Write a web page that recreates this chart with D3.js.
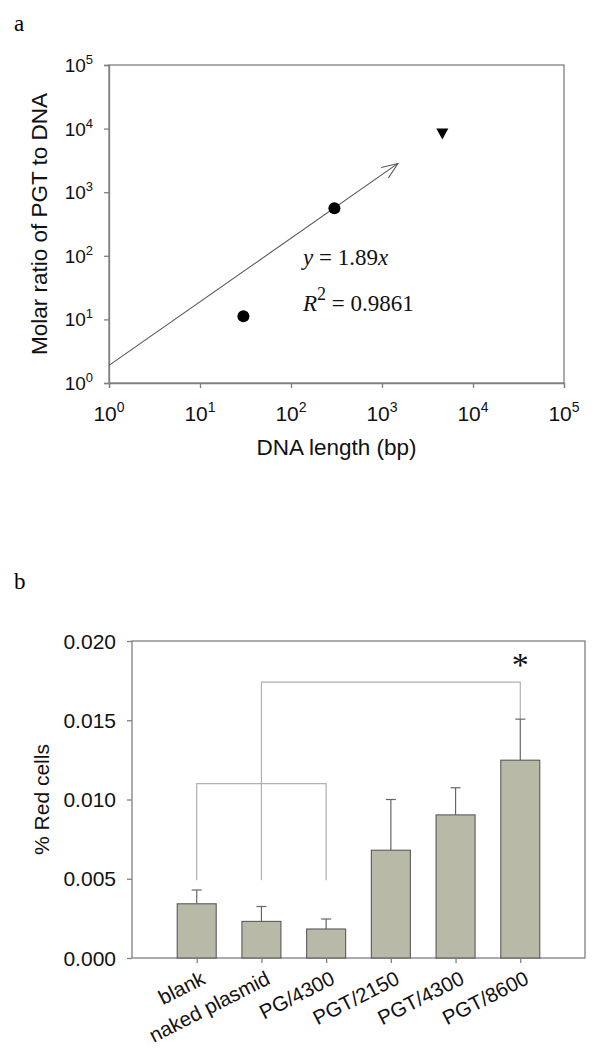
<!DOCTYPE html>
<html><head><meta charset="utf-8">
<script src="https://cdn.jsdelivr.net/npm/d3@7"></script>
<style>body{margin:0;background:#fff}svg{display:block}</style>
</head><body>
<svg id="c" width="603" height="1064"></svg>
<script>
// ---- Panel a data ----
const aCircleX = [30, 300];
const aCircleY = [11.2, 560];
const aTriX = [4600];
const aTriY = [8400];
const fitSlope = 1.89;
const fitRange = [1, 1500];
const aTicks = [1, 10, 100, 1000, 10000, 100000];
const aExponents = ["0", "1", "2", "3", "4", "5"];

// ---- Panel b data ----
const categories = ["blank", "naked plasmid", "PG/4300", "PGT/2150", "PGT/4300", "PGT/8600"];
const means = [0.00342, 0.00231, 0.00183, 0.00680, 0.00903, 0.01248];
const errs = [0.00087, 0.00094, 0.00063, 0.00320, 0.00171, 0.00259];
const bTicks = [0.000, 0.005, 0.010, 0.015, 0.020];
const bracketLow = {cats: ["blank", "naked plasmid", "PG/4300"], top: 0.0110, bottom: 0.0049};
const bracketHigh = {cats: ["naked plasmid", "PGT/8600"], top: 0.0174, bottoms: [0.0049, 0.0151]};

const svg = d3.select("#c");
const axisCol = "#808080";
const fontSans = "Liberation Sans, Arial, sans-serif";
const serif = "Liberation Serif, Times New Roman, serif";

// ================= Panel a =================
const ax0 = 109, ax1 = 564, ay0 = 65, ay1 = 383;
const xa = d3.scaleLog().domain([1, 1e5]).range([ax0, ax1]);
const ya = d3.scaleLog().domain([1, 1e5]).range([ay1, ay0]);

svg.append("text").attr("x", 14).attr("y", 31).attr("font-family", serif)
  .attr("font-size", 23).text("a");

const ga = svg.append("g");
ga.append("rect").attr("x", ax0).attr("y", ay0).attr("width", ax1 - ax0).attr("height", ay1 - ay0)
  .attr("fill", "none").attr("stroke", axisCol).attr("stroke-width", 1.3);

const xAxisA = ga.append("g").attr("transform", `translate(0,${ay1})`)
  .call(d3.axisBottom(xa).tickValues(aTicks).tickSize(5).tickFormat(""));
const yAxisA = ga.append("g").attr("transform", `translate(${ax0},0)`)
  .call(d3.axisLeft(ya).tickValues(aTicks).tickSize(5).tickFormat(""));
[xAxisA, yAxisA].forEach(g => { g.select(".domain").attr("stroke", axisCol).attr("stroke-width", 1.3); g.selectAll(".tick line").attr("stroke", axisCol).attr("stroke-width", 1.3); });

aTicks.forEach((v, i) => {
  const t = ga.append("text").attr("x", xa(v)).attr("y", 421).attr("text-anchor", "middle")
    .attr("font-family", fontSans).attr("font-size", 21).attr("fill", "#111");
  t.append("tspan").text("10");
  t.append("tspan").attr("font-size", 14).attr("dy", -9).text(aExponents[i]);
  const u = ga.append("text").attr("x", 93).attr("y", ya(v) + 7).attr("text-anchor", "end")
    .attr("font-family", fontSans).attr("font-size", 19).attr("fill", "#111");
  u.append("tspan").text("10");
  u.append("tspan").attr("font-size", 13).attr("dy", -8).text(aExponents[i]);
});

ga.append("text").attr("x", (ax0 + ax1) / 2).attr("y", 455).attr("text-anchor", "middle")
  .attr("font-family", fontSans).attr("font-size", 22.5).attr("fill", "#111").text("DNA length (bp)");
ga.append("text").attr("transform", `translate(47,${(ay0 + ay1) / 2}) rotate(-90)`).attr("text-anchor", "middle")
  .attr("font-family", fontSans).attr("font-size", 22.5).attr("fill", "#111").text("Molar ratio of PGT to DNA");

// fit line with open arrow
const defs = svg.append("defs");
defs.append("marker").attr("id", "arr").attr("viewBox", "0 0 20 20").attr("refX", 19).attr("refY", 10)
  .attr("markerWidth", 18).attr("markerHeight", 18).attr("markerUnits", "userSpaceOnUse").attr("orient", "auto")
  .append("path").attr("d", "M1,3 L19,10 L1,17").attr("fill", "none").attr("stroke", "#555").attr("stroke-width", 1.1);
const fitPts = fitRange.map(x => [xa(x), ya(fitSlope * x)]);
ga.append("path").attr("d", d3.line()(fitPts)).attr("stroke", "#555").attr("stroke-width", 1.1)
  .attr("fill", "none").attr("marker-end", "url(#arr)");

aCircleX.forEach((x, i) => ga.append("circle").attr("cx", xa(x)).attr("cy", ya(aCircleY[i])).attr("r", 6).attr("fill", "#000"));
aTriX.forEach((x, i) => {
  const cx = xa(x), cy = ya(aTriY[i]);
  ga.append("path").attr("d", `M${cx - 6},${cy - 5} L${cx + 6},${cy - 5} L${cx},${cy + 6} Z`).attr("fill", "#000");
});

const eq1 = ga.append("text").attr("x", 303).attr("y", ya(Math.pow(10, 1.86)))
  .attr("font-family", serif).attr("font-size", 23).attr("fill", "#111");
eq1.append("tspan").attr("font-style", "italic").text("y");
eq1.append("tspan").text(" = 1.89");
eq1.append("tspan").attr("font-style", "italic").text("x");
const eq2 = ga.append("text").attr("x", 303).attr("y", ya(Math.pow(10, 1.13)))
  .attr("font-family", serif).attr("font-size", 23).attr("fill", "#111");
eq2.append("tspan").attr("font-style", "italic").text("R");
eq2.append("tspan").attr("font-size", 18).attr("dy", -11).text("2");
eq2.append("tspan").attr("dy", 11).text(" = 0.9861");

// ================= Panel b =================
const bx0 = 132, bx1 = 585, by0 = 641, by1 = 958;
const W = bx1 - bx0;
const xb = d3.scalePoint().domain(categories).range([bx0 + W / 7, bx1 - W / 7]);
const yb = d3.scaleLinear().domain([0, 0.020]).range([by1, by0]);
const barW = 39;

svg.append("text").attr("x", 14).attr("y", 589).attr("font-family", serif).attr("font-size", 23).text("b");

const gb = svg.append("g");
gb.append("rect").attr("x", bx0).attr("y", by0).attr("width", W).attr("height", by1 - by0)
  .attr("fill", "none").attr("stroke", axisCol).attr("stroke-width", 1.3);

const brCol = "#b0b0b0";
const lowXs = bracketLow.cats.map(c => xb(c));
gb.append("path").attr("d", `M${lowXs[0]},${yb(bracketLow.bottom)} V${yb(bracketLow.top)} H${lowXs[2]} V${yb(bracketLow.bottom)}`)
  .attr("fill", "none").attr("stroke", brCol).attr("stroke-width", 1.2);
const hiXs = bracketHigh.cats.map(c => xb(c));
gb.append("path").attr("d", `M${hiXs[0]},${yb(bracketHigh.bottoms[0])} V${yb(bracketHigh.top)} H${hiXs[1]} V${yb(bracketHigh.bottoms[1])}`)
  .attr("fill", "none").attr("stroke", brCol).attr("stroke-width", 1.2);

const errCol = "#666";
categories.forEach((c, i) => {
  const x = xb(c);
  gb.append("line").attr("x1", x).attr("x2", x).attr("y1", yb(means[i])).attr("y2", yb(means[i] + errs[i]))
    .attr("stroke", errCol).attr("stroke-width", 1.2);
  gb.append("line").attr("x1", x - 5).attr("x2", x + 5).attr("y1", yb(means[i] + errs[i])).attr("y2", yb(means[i] + errs[i]))
    .attr("stroke", errCol).attr("stroke-width", 1.2);
});

gb.selectAll("rect.bar").data(categories).join("rect").attr("class", "bar")
  .attr("x", c => xb(c) - barW / 2).attr("width", barW)
  .attr("y", (c, i) => yb(means[i])).attr("height", (c, i) => yb(0) - yb(means[i]))
  .attr("fill", "#b9b9a7").attr("stroke", "#5a5a5a").attr("stroke-width", 1.1);

const xAxisB = gb.append("g").attr("transform", `translate(0,${by1})`)
  .call(d3.axisBottom(xb).tickSize(5).tickFormat(""));
const yAxisB = gb.append("g").attr("transform", `translate(${bx0},0)`)
  .call(d3.axisLeft(yb).tickValues(bTicks).tickSize(5).tickFormat(""));
[xAxisB, yAxisB].forEach(g => { g.select(".domain").remove(); g.selectAll(".tick line").attr("stroke", axisCol).attr("stroke-width", 1.3); });

bTicks.forEach(v => {
  gb.append("text").attr("x", 116).attr("y", yb(v) + 7.5).attr("text-anchor", "end")
    .attr("font-family", fontSans).attr("font-size", 21).attr("fill", "#111").text(d3.format(".3f")(v));
});
categories.forEach(c => {
  gb.append("text").attr("transform", `translate(${xb(c) + 10},${983}) rotate(-27)`).attr("text-anchor", "end")
    .attr("font-family", fontSans).attr("font-size", 20.5).attr("fill", "#111").text(c);
});
gb.append("text").attr("transform", `translate(49,${(by0 + by1) / 2}) rotate(-90)`).attr("text-anchor", "middle")
  .attr("font-family", fontSans).attr("font-size", 21).attr("fill", "#111").text("% Red cells");

gb.append("text").attr("x", xb("PGT/8600")).attr("y", 676).attr("text-anchor", "middle")
  .attr("font-family", serif).attr("font-size", 34).attr("fill", "#111").text("*");
</script>
</body></html>
